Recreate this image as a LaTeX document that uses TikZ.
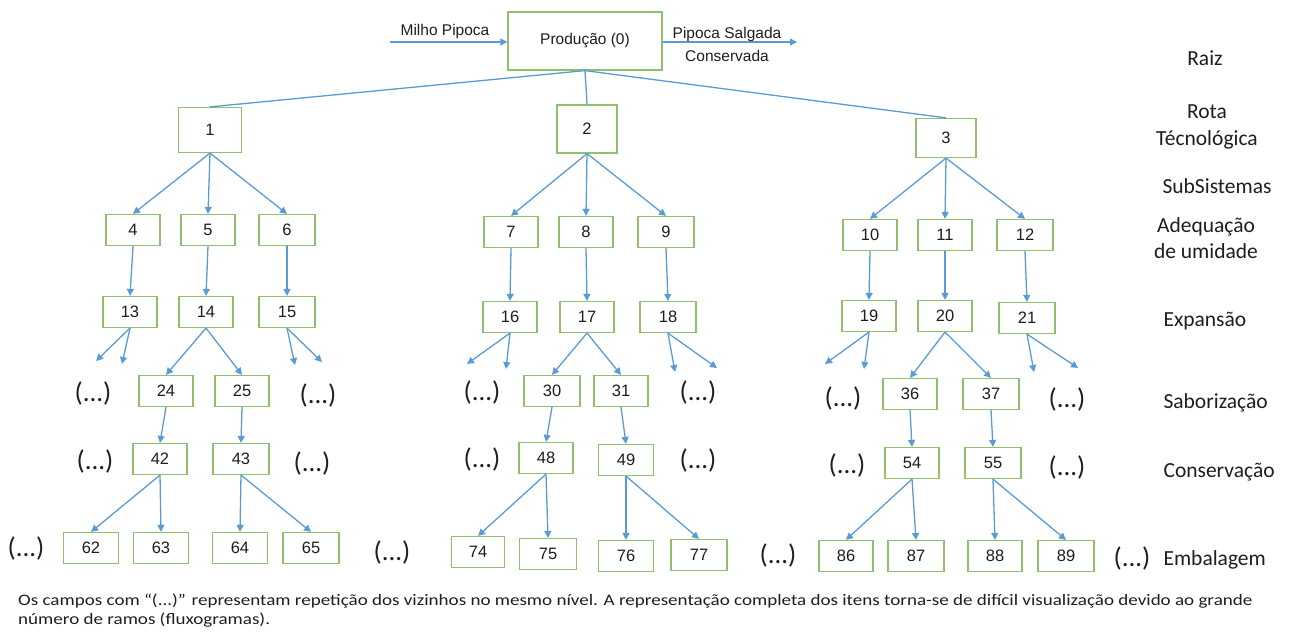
\documentclass[tikz,border=0pt]{standalone}
\usepackage{fontspec}
\setmainfont{Liberation Sans}
\newfontfamily\calib{Carlito}
\usetikzlibrary{arrows.meta}
\definecolor{bx}{HTML}{8FC16D}
\definecolor{ln}{HTML}{5B9BD5}
\definecolor{tx}{HTML}{1E1E1E}
\tikzset{
  bxs/.style={draw=bx, line width=1.2pt, fill=white, minimum width=54pt, minimum height=31pt, inner sep=0pt, text=tx, font=\fontsize{16.5}{18}\selectfont},
  arr/.style={draw=ln, line width=1.3pt, -{Triangle[length=7pt,width=7pt]}},
  lnk/.style={draw=ln, line width=1.3pt},
  dots/.style={font=\calib\fontsize{27}{30}\selectfont, text=tx},
  lvl/.style={font=\calib\fontsize{21.5}{26.5}\selectfont, text=tx, align=center},
  lvlw/.style={lvl, anchor=west},
  small/.style={text=tx, font=\fontsize{15.5}{23}\selectfont},
  foots/.style={anchor=base west, inner sep=0pt, font=\calib\fontsize{16}{19}\selectfont, text=tx, xscale=1.19, transform shape},
}
\begin{document}
\begin{tikzpicture}[x=1pt,y=-1pt]
\useasboundingbox (0,0) rectangle (1291,634);
% root
\node[bxs, minimum width=154pt, minimum height=58pt, font=\fontsize{15.5}{18}\selectfont] (root) at (585,41) {Produção (0)};
\coordinate (inL) at (390,42);
\coordinate (outR) at (797,42);
\draw[arr] (inL) -- (root.west |- inL);
\draw[arr] (root.east |- outR) -- (outR);
\node[small] (lmilho) at (445,31) {Milho Pipoca};
\node[small, align=center] (lpip) at (727,44) {Pipoca Salgada\\Conservada};
% level 1
\node[bxs, minimum width=63pt, minimum height=45pt] (n1) at (210,130) {1};
\node[bxs, minimum width=60pt, minimum height=48pt] (n2) at (587,129) {2};
\node[bxs, minimum width=60pt, minimum height=39pt] (n3) at (946,138) {3};
\draw[lnk] (root.south) -- (n1.north);
\draw[lnk] (root.south) -- (n2.north);
\draw[lnk] (root.south) -- (n3.north);
% level 2
\node[bxs] (n4) at (133,230) {4};
\node[bxs] (n5) at (208,230) {5};
\node[bxs, minimum width=56pt] (n6) at (287,230) {6};
\node[bxs] (n7) at (511,232) {7};
\node[bxs] (n8) at (586,232) {8};
\node[bxs, minimum width=56pt] (n9) at (666,232) {9};
\node[bxs] (n10) at (870,235) {10};
\node[bxs] (n11) at (945,235) {11};
\node[bxs, minimum width=56pt] (n12) at (1025,235) {12};
\foreach \p/\c in {n1/n4,n1/n5,n1/n6,n2/n7,n2/n8,n2/n9,n3/n10,n3/n11,n3/n12}
  \draw[arr] (\p.south) -- (\c.north);
% level 3
\node[bxs] (n13) at (130,312) {13};
\node[bxs] (n14) at (206,312) {14};
\node[bxs, minimum width=56pt] (n15) at (287,312) {15};
\node[bxs] (n16) at (510,317) {16};
\node[bxs] (n17) at (587,317) {17};
\node[bxs, minimum width=56pt] (n18) at (668,317) {18};
\node[bxs] (n19) at (869,316) {19};
\node[bxs] (n20) at (945,316) {20};
\node[bxs, minimum width=56pt] (n21) at (1027,318) {21};
\foreach \p/\c in {n4/n13,n5/n14,n6/n15,n7/n16,n8/n17,n9/n18,n10/n19,n11/n20,n12/n21}
  \draw[arr] (\p.south) -- (\c.north);
% partial arrows
\coordinate (a13a) at (96,361); \coordinate (a13b) at (122,364);
\coordinate (a15a) at (295,365); \coordinate (a15b) at (322,362);
\coordinate (a16a) at (467,364); \coordinate (a16b) at (506,369);
\coordinate (a18a) at (675,372); \coordinate (a18b) at (717,368);
\coordinate (a19a) at (825,364); \coordinate (a19b) at (864,369);
\coordinate (a21a) at (1034,372); \coordinate (a21b) at (1078,368);
\draw[arr] (n13.south) -- (a13a); \draw[arr] (n13.south) -- (a13b);
\draw[arr] (n15.south) -- (a15a); \draw[arr] (n15.south) -- (a15b);
\draw[arr] (n16.south) -- (a16a); \draw[arr] (n16.south) -- (a16b);
\draw[arr] (n18.south) -- (a18a); \draw[arr] (n18.south) -- (a18b);
\draw[arr] (n19.south) -- (a19a); \draw[arr] (n19.south) -- (a19b);
\draw[arr] (n21.south) -- (a21a); \draw[arr] (n21.south) -- (a21b);
% level 4
\node[bxs] (n24) at (166,391) {24};
\node[bxs] (n25) at (242,391) {25};
\node[bxs, minimum width=56pt] (n30) at (552,391) {30};
\node[bxs] (n31) at (621,391) {31};
\node[bxs] (n36) at (910,394) {36};
\node[bxs, minimum width=56pt] (n37) at (991,394) {37};
\draw[arr] (n14.south) -- (n24.north);
\draw[arr] (n14.south) -- (n25.north);
\draw[arr] (n17.south) -- (n30.north);
\draw[arr] (n17.south) -- (n31.north);
\draw[arr] (n20.south) -- (n36.north);
\draw[arr] (n20.south) -- (n37.north);
% level 5
\node[bxs] (n42) at (160,459) {42};
\node[bxs, minimum width=56pt] (n43) at (241,459) {43};
\node[bxs] (n48) at (546,458) {48};
\node[bxs, minimum width=55pt] (n49) at (626,460) {49};
\node[bxs] (n54) at (912,463) {54};
\node[bxs, minimum width=56pt] (n55) at (993,463) {55};
\foreach \p/\c in {n24/n42,n25/n43,n30/n48,n31/n49,n36/n54,n37/n55}
  \draw[arr] (\p.south) -- (\c.north);
% level 6
\node[bxs, minimum width=55pt] (n62) at (91,548) {62};
\node[bxs, minimum width=55pt] (n63) at (161,548) {63};
\node[bxs, minimum width=55pt] (n64) at (240,548) {64};
\node[bxs, minimum width=56pt] (n65) at (311,548) {65};
\node[bxs, minimum width=53pt] (n74) at (478,552) {74};
\node[bxs, minimum width=57pt] (n75) at (548,554) {75};
\node[bxs, minimum width=55pt] (n76) at (626,556) {76};
\node[bxs, minimum width=56pt] (n77) at (699,555) {77};
\node[bxs] (n86) at (846,556) {86};
\node[bxs, minimum width=56pt] (n87) at (916,556) {87};
\node[bxs] (n88) at (995,556) {88};
\node[bxs, minimum width=56pt] (n89) at (1066,556) {89};
\foreach \p/\c in {n42/n62,n42/n63,n43/n64,n43/n65,n48/n74,n48/n75,n49/n76,n49/n77,n54/n86,n54/n87,n55/n88,n55/n89}
  \draw[arr] (\p.south) -- (\c.north);
% (...) labels
\node[dots] (d1) at (93,393) {(...)};
\node[dots] (d2) at (318,395) {(...)};
\node[dots] (d3) at (482,392) {(...)};
\node[dots] (d4) at (698,392) {(...)};
\node[dots] (d5) at (843,398) {(...)};
\node[dots] (d6) at (1067,399) {(...)};
\node[dots] (d7) at (95,461) {(...)};
\node[dots] (d8) at (312,463) {(...)};
\node[dots] (d9) at (482,459) {(...)};
\node[dots] (d10) at (698,460) {(...)};
\node[dots] (d11) at (847,465) {(...)};
\node[dots] (d12) at (1067,467) {(...)};
\node[dots] (d13) at (26,548) {(...)};
\node[dots] (d14) at (392,552) {(...)};
\node[dots] (d15) at (778,555) {(...)};
\node[dots] (d16) at (1132,558) {(...)};
% level labels
\node[lvl] (lraiz) at (1205,58) {Raiz};
\node[lvl] (lrota) at (1207,127) {Rota\\Técnológica};
\node[lvlw] (lsub) at (1159,186) {SubSistemas};
\node[lvl] (lade) at (1206,238) {Adequação\\de umidade};
\node[lvlw] (lexp) at (1160,321) {Expansão};
\node[lvlw] (lsab) at (1160,403) {Saborização};
\node[lvlw] (lcon) at (1160,472) {Conservação};
\node[lvlw] (lemb) at (1160,560) {Embalagem};
% footnote
\node[foots] (foot1) at (18,605) {Os campos com “(...)” representam repetição dos vizinhos no mesmo nível. A representação completa dos itens torna-se de difícil visualização devido ao grande};
\node[foots] (foot2) at (18,624) {número de ramos (fluxogramas).};
\end{tikzpicture}
\end{document}
